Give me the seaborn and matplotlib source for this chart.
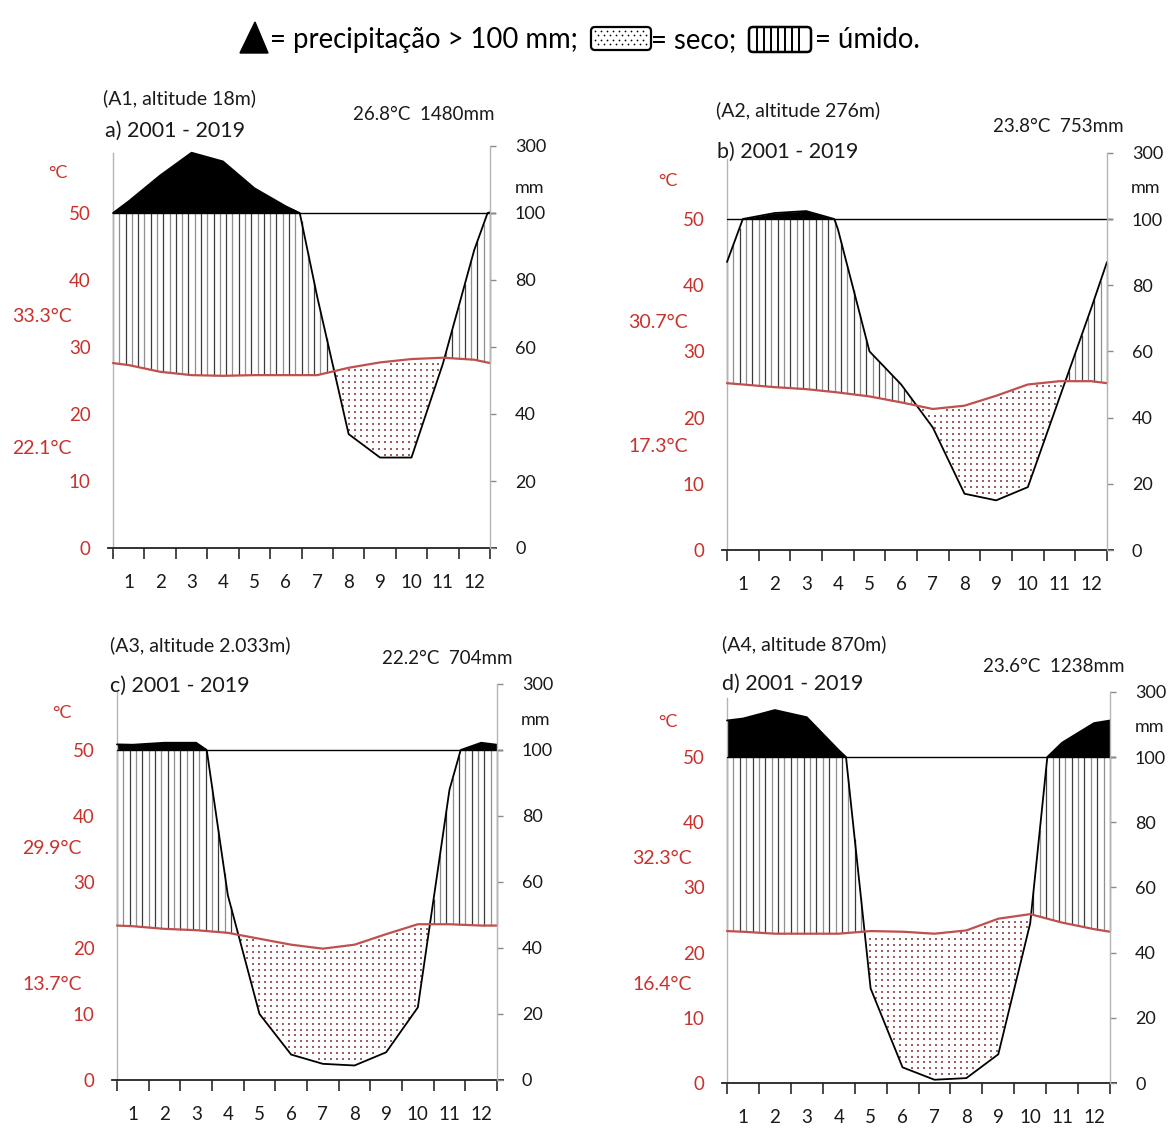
import numpy as np
import pandas as pd
import matplotlib
matplotlib.use("Agg")
import matplotlib.pyplot as plt
import seaborn as sns
from matplotlib.patches import Polygon, FancyBboxPatch

# ---------------- data ----------------
month_labels = [str(m) for m in range(1, 13)]

# A1
temp_a = [27.3, 26.3, 25.8, 25.7, 25.8, 25.8, 25.8, 26.9, 27.7, 28.2, 28.4, 28.1]
prec_a = [135, 212, 280, 254, 174, 120, 75, 34, 27, 27, 55, 89]
temp_edge_a = [27.6, 27.6]
prec_edge_a = [100, 102]

# A2
temp_b = [25.0, 24.6, 24.3, 23.8, 23.2, 22.3, 21.3, 21.8, 23.3, 25.0, 25.5, 25.5]
prec_b = [100, 118, 124, 97, 60, 50, 37, 17, 15, 19, 46, 73]
temp_edge_b = [25.2, 25.2]
prec_edge_b = [87, 87]

# A3
temp_c = [23.3, 22.9, 22.7, 22.3, 21.4, 20.5, 19.9, 20.5, 22.1, 23.6, 23.6, 23.4]
prec_c = [116, 122, 122, 56, 20, 7.7, 4.9, 4.4, 8.4, 22, 88, 122]
temp_edge_c = [23.4, 23.4]
prec_edge_c = [117, 116]

# A4
temp_d = [23.2, 22.9, 22.9, 22.9, 23.3, 23.2, 22.9, 23.4, 25.2, 25.9, 24.6, 23.6]
prec_d = [218, 244, 222, 121, 29, 4.8, 1.0, 1.5, 8.8, 49, 144, 204]
temp_edge_d = [23.3, 23.2]
prec_edge_d = [212, 212]

stations = ["(A1, altitude 18m)", "(A2, altitude 276m)",
            "(A3, altitude 2.033m)", "(A4, altitude 870m)"]
periods = ["a) 2001 - 2019", "b) 2001 - 2019", "c) 2001 - 2019", "d) 2001 - 2019"]
summaries = ["26.8°C  1480mm", "23.8°C  753mm", "22.2°C  704mm", "23.6°C  1238mm"]
tmax_labels = ["33.3°C", "30.7°C", "29.9°C", "32.3°C"]
tmin_labels = ["22.1°C", "17.3°C", "13.7°C", "16.4°C"]
temp_ticks = [0, 10, 20, 30, 40, 50]
prec_tick_pos = [0, 10, 20, 30, 40, 50, 60]
prec_tick_labels = ["0", "20", "40", "60", "80", "100", "300"]

# ---------------- style ----------------
sns.set_style("white")
plt.rcParams['font.family'] = ['Lato', 'DejaVu Sans']

W, H = 1170, 1128
fig = plt.figure(figsize=(W / 100, H / 100), dpi=100)

RED = '#c8322d'
TLINE = '#c0504d'
DOT = '#9c5f5f'
SPINE = '#b5b5b5'

# panel geometry in pixels: left spine, right spine, y of 50 degC, y of 0
geom = [(113, 490, 213, 548), (727, 1107, 219, 550),
        (117, 497, 750, 1080), (727, 1110, 757, 1083)]
# text positions in pixels
txtpos = [
    dict(st=(103, 98), pe=(105, 131), su=(353, 115), c=(58, 173), mx=(12, 316), mn=(12, 449), mm=(530, 188)),
    dict(st=(716, 110), pe=(717, 152), su=(993, 127), c=(668, 181), mx=(628, 322), mn=(628, 447), mm=(1145, 188)),
    dict(st=(110, 645), pe=(110, 686), su=(382, 658), c=(62, 713), mx=(22, 849), mn=(22, 985), mm=(535, 720)),
    dict(st=(722, 644), pe=(722, 684), su=(983, 666), c=(668, 722), mx=(632, 858), mn=(632, 985), mm=(1150, 727)),
]

XL, XR = -0.15, 12.2


def scale_p(p):
    p = np.asarray(p, float)
    return np.where(p <= 100, p / 2.0, 50 + (p - 100) / 20.0)


def with_breaks(x, p):
    """Insert the points where a segment crosses 100 mm (scale break)."""
    xo, po = [x[0]], [p[0]]
    for i in range(len(x) - 1):
        a, b = p[i], p[i + 1]
        if (a - 100) * (b - 100) < 0:
            f = (100 - a) / (b - a)
            xo.append(x[i] + f * (x[i + 1] - x[i]))
            po.append(100.0)
        xo.append(x[i + 1])
        po.append(b)
    return np.array(xo), np.array(po)


def draw_panel(ax, temp, prec, tedge, pedge):
    x = np.concatenate([[0], np.arange(12) + 0.5, [12]])
    t = np.concatenate([[tedge[0]], temp, [tedge[1]]])
    pm = np.concatenate([[pedge[0]], prec, [pedge[1]]]).astype(float)
    xp, pmb = with_breaks(x, pm)
    p = scale_p(pmb)

    # wet season above 100 mm
    ax.fill_between(xp, 50, p, where=p >= 50, interpolate=True, color='black', lw=0, zorder=2)

    # humid: vertical lines
    xs = np.arange(0, 12 + 1e-6, 0.2)
    ts = np.interp(xs, x, t)
    ps = np.minimum(np.interp(xs, xp, p), 50)
    m = ps > ts
    cols = np.where(np.arange(len(xs)) % 2 == 0, '#3a3a3a', '#8f8f8f')
    ax.vlines(xs[m], ts[m], ps[m], colors=cols[m], lw=0.9, zorder=2)

    # dry: dot grid
    gx, gy = np.meshgrid(np.arange(0.1, 12, 0.19), np.arange(0.45, 60, 0.9))
    gx, gy = gx.ravel(), gy.ravel()
    tg = np.interp(gx, x, t)
    pg = np.interp(gx, xp, p)
    m = (gy < tg - 0.35) & (gy > pg + 0.35)
    ax.scatter(gx[m], gy[m], s=1.7, color=DOT, linewidths=0, marker='s', zorder=2)

    dfp = pd.DataFrame({'x': xp, 'prec': p})
    dft = pd.DataFrame({'x': x, 'temp': t})
    sns.lineplot(data=dfp, x='x', y='prec', ax=ax, color='black', lw=1.3,
                 estimator=None, sort=False, zorder=4)
    sns.lineplot(data=dft, x='x', y='temp', ax=ax, color=TLINE, lw=1.6,
                 estimator=None, sort=False, zorder=5)
    ax.plot([0, XR], [50, 50], color='black', lw=1.0, zorder=3)


data = [(temp_a, prec_a, temp_edge_a, prec_edge_a),
        (temp_b, prec_b, temp_edge_b, prec_edge_b),
        (temp_c, prec_c, temp_edge_c, prec_edge_c),
        (temp_d, prec_d, temp_edge_d, prec_edge_d)]

for i, (g, d) in enumerate(zip(geom, data)):
    x0, x1, y50, yb = g
    mw = (x1 - x0) / 12.0
    ppc = (yb - y50) / 50.0
    left = x0 + XL * mw
    right = x0 + XR * mw
    top = y50 - 10 * ppc
    ax = fig.add_axes([left / W, 1 - yb / H, (right - left) / W, (yb - top) / H])
    draw_panel(ax, *d)
    ax.set_xlim(XL, XR)
    ax.set_ylim(0, 60)
    ax.set_xlabel('')
    ax.set_ylabel('')
    ax.spines['top'].set_visible(False)
    ax.spines['right'].set_visible(False)
    ax.spines['left'].set_position(('data', 0))
    ax.spines['left'].set_bounds(0, 59)
    ax.spines['left'].set_color(SPINE)
    ax.spines['left'].set_linewidth(1.0)
    ax.spines['bottom'].set_color('#222222')
    ax.spines['bottom'].set_linewidth(1.3)

    ax.set_xticks(range(13))
    ax.set_xticklabels([])
    ax.set_xticks(np.arange(12) + 0.5, minor=True)
    ax.set_xticklabels(month_labels, minor=True)
    ax.tick_params(axis='x', which='major', length=8, width=1.3, color='#3a3a3a', direction='out', bottom=True)
    ax.tick_params(axis='x', which='minor', length=0, pad=19, labelsize=13.5, labelcolor='#1a1a1a', bottom=True)

    ax.set_yticks(temp_ticks)
    ax.set_yticklabels([str(v) for v in temp_ticks])
    ax.tick_params(axis='y', left=True, length=0, pad=16, labelsize=13.5, labelcolor=RED)

    ax2 = ax.twinx()
    ax2.set_ylim(0, 60)
    for s in ['top', 'left', 'bottom']:
        ax2.spines[s].set_visible(False)
    ax2.spines['right'].set_position(('data', 12))
    ax2.spines['right'].set_bounds(0, 60)
    ax2.spines['right'].set_color(SPINE)
    ax2.spines['right'].set_linewidth(1.0)
    ax2.set_yticks(prec_tick_pos)
    ax2.set_yticklabels(prec_tick_labels)
    ax2.tick_params(axis='y', right=True, length=4, width=1.0, color='#8a8a8a', pad=14,
                    labelsize=13, labelcolor='#1a1a1a')
    ax2.grid(False)
    ax.grid(False)

# overlay axes in pixel coordinates for texts and legend
ov = fig.add_axes([0, 0, 1, 1], zorder=10)
ov.set_xlim(0, W)
ov.set_ylim(H, 0)
ov.axis('off')
ov.patch.set_alpha(0)

for i, tp in enumerate(txtpos):
    ov.text(*tp['st'], stations[i], fontsize=14, ha='left', va='center', color='#1a1a1a')
    ov.text(*tp['pe'], periods[i], fontsize=15.5, ha='left', va='center', color='#1a1a1a')
    ov.text(*tp['su'], summaries[i], fontsize=13.5, ha='left', va='center', color='#1a1a1a')
    ov.text(*tp['c'], '°C', fontsize=13, ha='center', va='center', color=RED)
    ov.text(*tp['mx'], tmax_labels[i], fontsize=14, ha='left', va='center', color=RED)
    ov.text(*tp['mn'], tmin_labels[i], fontsize=14, ha='left', va='center', color=RED)
    ov.text(*tp['mm'], 'mm', fontsize=13, ha='center', va='center', color='#1a1a1a')

# legend
LFS = 19.8
ov.add_patch(Polygon([(240, 53), (268, 53), (255, 22)], closed=True, color='black'))
ov.text(270, 40, '= precipitação > 100 mm;', fontsize=LFS, ha='left', va='center', color='black')
ov.add_patch(FancyBboxPatch((591, 27), 60, 23, boxstyle='round,pad=0,rounding_size=4',
                            fc='white', ec='black', lw=1.6))
lx, ly = np.meshgrid(np.arange(595, 648, 6.0), np.arange(30.5, 48, 4.5))
ov.scatter(lx.ravel() + (np.arange(lx.size) // lx.shape[1] % 2) * 3.0, ly.ravel(), s=1.6,
           color='black', linewidths=0)
ov.text(651, 40, '= seco;', fontsize=LFS, ha='left', va='center', color='black')
ov.add_patch(FancyBboxPatch((749, 27), 62, 25, boxstyle='round,pad=0,rounding_size=4',
                            fc='white', ec='black', lw=1.8))
ov.vlines(np.arange(757, 806, 7.0), 27, 52, color='black', lw=1.4)
ov.text(815, 40, '= úmido.', fontsize=LFS, ha='left', va='center', color='black')

fig.savefig('out.png', dpi=100)
